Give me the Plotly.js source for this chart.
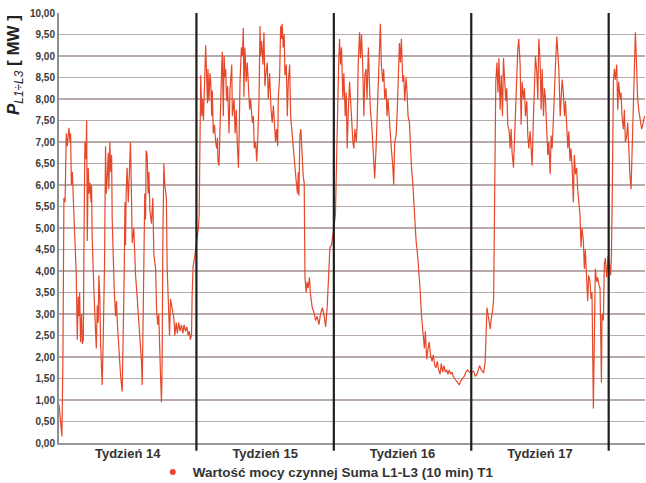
<!DOCTYPE html>
<html><head><meta charset="utf-8">
<script src="https://cdn.plot.ly/plotly-3.0.1.min.js"></script>
<style>html,body{margin:0;padding:0;background:#fff}#chart{width:646px;height:483px}</style>
</head><body><div id="chart"></div>
<script>
// time in days from start of week 14, power in MW
const w14Day=[0.00,0.07,0.15,0.20,0.25,0.31,0.34,0.37,0.42,0.47,0.51,0.56,0.59,0.63,0.68,0.76,0.81,0.88,0.93,0.98,1.02,1.05,1.10,1.15,1.19,1.24,1.27,1.32,1.37,1.41,1.44,1.49,1.53,1.58,1.63,1.66,1.69,1.73,1.78,1.83,1.90,1.95,2.00,2.03,2.08,2.12,2.15,2.20,2.25,2.32,2.37,2.41,2.46,2.51,2.54,2.59,2.63,2.68,2.71,2.75,2.81,2.88,2.93,2.97,3.02,3.08,3.14,3.22,3.27,3.32,3.36,3.39,3.42,3.47,3.53,3.56,3.61,3.64,3.69,3.73,3.81,3.90,3.98,4.03,4.07,4.15,4.20,4.24,4.27,4.32,4.37,4.41,4.44,4.49,4.54,4.58,4.63,4.71,4.78,4.83,4.92,4.97,5.03,5.08,5.12,5.17,5.22,5.25,5.29,5.34,5.39,5.42,5.47,5.51,5.56,5.59,5.63,5.68,5.76,5.85,5.90,5.97,6.03,6.10,6.17,6.24,6.31,6.37,6.44,6.51,6.58,6.64,6.69,6.75,6.78,6.83,6.92,7.00];
const w14MW=[0.90,0.55,0.15,2.0,5.7,5.6,6.6,7.2,6.9,7.25,7.33,7.0,7.2,6.0,6.3,5.3,4.5,3.9,2.4,3.4,2.95,3.5,2.35,3.0,2.3,2.4,4.5,7.0,6.6,7.5,4.7,6.4,5.8,6.05,5.6,6.0,4.8,3.9,3.5,2.95,2.2,3.2,2.8,3.9,3.4,2.3,1.7,1.35,2.35,4.2,6.9,5.8,6.2,6.75,5.9,7.0,6.3,6.7,5.2,4.2,3.6,2.95,3.3,2.8,2.35,1.9,1.55,1.2,2.35,3.9,5.6,4.6,5.8,6.4,5.6,5.9,6.6,7.0,5.8,4.65,5.0,3.9,3.4,3.1,2.8,2.35,1.9,1.35,2.35,4.8,5.8,5.2,6.8,6.7,5.8,6.3,5.4,5.1,5.7,4.4,4.05,3.1,2.75,3.0,2.2,1.6,0.95,1.7,4.65,6.5,6.0,5.8,5.7,4.05,3.4,3.0,2.5,3.35,3.1,2.9,2.5,2.8,2.55,2.8,2.6,2.75,2.55,2.75,2.6,2.7,2.5,2.6,2.4,2.5,3.4,4.1,4.35,4.65];
const w15Day=[7.05,7.10,7.14,7.17,7.22,7.27,7.31,7.36,7.41,7.44,7.47,7.53,7.56,7.59,7.64,7.69,7.73,7.78,7.81,7.86,7.92,7.98,8.03,8.07,8.10,8.15,8.20,8.24,8.29,8.32,8.37,8.41,8.46,8.49,8.54,8.59,8.66,8.71,8.76,8.80,8.83,8.92,8.97,9.03,9.08,9.14,9.17,9.22,9.29,9.34,9.39,9.42,9.47,9.54,9.59,9.64,9.71,9.76,9.85,9.90,9.95,10.02,10.07,10.12,10.19,10.24,10.27,10.32,10.39,10.44,10.49,10.53,10.61,10.66,10.73,10.80,10.86,10.92,10.97,11.03,11.08,11.14,11.17,11.24,11.29,11.34,11.37,11.42,11.47,11.51,11.58,11.63,11.68,11.75,11.80,11.85,11.92,11.97,12.02,12.08,12.15,12.19,12.22,12.27,12.32,12.36,12.39,12.44,12.49,12.53,12.59,12.64,12.69,12.76,12.81,12.90,12.98,13.07,13.15,13.24,13.32,13.41,13.49,13.58,13.66,13.75,13.80,13.88,13.97];
const w15MW=[4.7,5.0,5.3,6.85,8.55,7.6,8.0,7.5,8.3,8.8,9.25,8.4,7.9,8.7,7.95,8.6,8.4,7.6,8.2,7.2,7.4,7.0,6.85,7.1,6.55,6.45,7.6,8.4,8.8,9.1,7.6,9.0,8.5,8.7,7.95,8.3,7.2,8.2,8.6,8.8,7.6,8.0,7.2,7.75,7.0,6.4,7.0,8.4,9.2,9.0,9.65,8.05,9.2,8.4,8.85,8.25,7.75,8.0,7.45,7.6,6.85,7.0,6.55,7.0,8.0,9.7,9.0,9.35,8.8,9.55,8.3,8.55,8.85,8.0,8.6,7.75,7.45,7.85,7.3,7.0,7.3,6.9,8.0,8.55,9.7,9.4,9.75,9.2,9.5,8.55,8.8,7.6,8.4,8.8,7.6,7.3,7.0,6.55,6.25,6.1,5.8,6.3,5.75,7.15,7.3,6.8,6.7,6.2,6.05,3.85,3.5,3.75,3.6,3.85,3.45,3.15,3.05,2.85,2.95,2.75,3.0,3.15,3.0,2.7,3.15,3.95,4.55,4.6,4.85];
const w16Day=[14.00,14.08,14.15,14.20,14.25,14.29,14.34,14.39,14.46,14.51,14.58,14.63,14.68,14.73,14.80,14.85,14.90,14.97,15.02,15.07,15.14,15.19,15.24,15.31,15.36,15.41,15.47,15.53,15.58,15.64,15.69,15.76,15.81,15.86,15.93,15.98,16.03,16.08,16.15,16.20,16.25,16.32,16.37,16.42,16.49,16.54,16.59,16.66,16.71,16.76,16.83,16.88,16.93,17.00,17.05,17.10,17.17,17.22,17.27,17.34,17.39,17.44,17.51,17.56,17.61,17.68,17.73,17.78,17.85,17.90,17.95,18.02,18.07,18.12,18.19,18.27,18.32,18.39,18.46,18.53,18.61,18.66,18.73,18.80,18.86,18.92,19.00,19.07,19.14,19.20,19.27,19.34,19.41,19.47,19.54,19.61,19.68,19.75,19.81,19.88,19.95,20.02,20.08,20.15,20.22,20.31,20.39,20.47,20.56,20.64,20.73,20.81,20.90,20.98];
const w16MW=[5.0,5.3,6.85,8.4,8.9,9.4,8.8,9.2,8.0,8.6,7.6,8.15,6.85,7.6,8.4,8.0,7.4,7.0,6.85,7.3,7.0,7.4,8.8,9.55,8.95,9.5,8.8,7.6,8.55,8.7,8.0,9.2,8.4,7.75,7.4,7.0,6.7,6.15,6.85,7.6,8.0,9.2,9.75,8.8,8.4,8.7,8.0,8.25,7.6,8.0,7.4,7.0,6.85,6.45,6.0,7.0,7.15,7.6,8.4,9.3,8.85,9.4,8.4,8.55,7.95,8.5,8.15,7.6,7.45,6.85,6.45,6.05,5.6,5.15,4.7,4.35,3.9,3.6,3.0,2.5,2.2,2.6,1.95,2.2,2.35,2.05,1.9,2.05,1.8,1.75,1.9,1.7,1.6,1.85,1.65,1.8,1.65,1.7,1.6,1.7,1.6,1.65,1.55,1.5,1.45,1.4,1.35,1.45,1.5,1.55,1.65,1.7,1.65,1.65];
const w17Day=[21.12,21.20,21.29,21.42,21.51,21.63,21.71,21.76,21.80,21.85,21.90,21.97,22.02,22.08,22.14,22.17,22.20,22.25,22.31,22.36,22.41,22.47,22.53,22.59,22.64,22.69,22.76,22.81,22.86,22.93,22.98,23.03,23.08,23.15,23.20,23.25,23.32,23.37,23.42,23.49,23.54,23.59,23.66,23.71,23.76,23.83,23.88,23.93,24.00,24.05,24.10,24.17,24.22,24.27,24.34,24.39,24.44,24.51,24.56,24.61,24.68,24.73,24.78,24.85,24.90,24.95,25.02,25.07,25.12,25.19,25.24,25.29,25.36,25.41,25.46,25.53,25.58,25.63,25.69,25.75,25.80,25.86,25.92,25.97,26.03,26.08,26.14,26.20,26.25,26.31,26.37,26.42,26.47,26.54,26.59,26.64,26.71,26.76,26.81,26.88,26.93,26.98,27.05,27.10,27.15,27.22,27.27,27.32,27.39,27.44,27.49,27.56,27.63,27.66,27.73,27.78,27.83,27.90,27.97];
const w17MW=[1.67,1.55,1.6,1.8,1.7,1.63,1.9,2.75,3.15,3.0,2.85,2.65,2.9,3.05,3.35,5.15,7.6,8.4,8.85,8.15,8.95,7.75,8.55,7.6,8.95,8.4,7.95,8.25,7.4,7.25,6.85,7.3,6.75,6.4,7.0,7.75,8.8,9.15,9.4,8.8,7.4,8.4,8.0,8.25,7.6,7.95,7.15,6.85,7.25,6.7,6.45,7.6,8.4,9.0,8.6,8.0,9.4,8.85,7.75,8.7,7.6,8.25,8.0,7.25,6.7,7.0,6.25,7.15,6.85,7.6,8.55,8.8,9.45,9.0,8.7,7.6,8.25,8.45,8.15,7.6,7.95,7.4,6.85,7.25,6.55,6.85,6.4,5.6,6.7,6.25,6.4,5.9,5.55,5.3,4.55,5.0,4.7,4.05,4.5,3.6,3.3,3.9,3.75,3.35,3.5,0.8,3.0,4.05,3.75,3.85,3.7,3.6,1.4,3.0,2.85,4.15,4.3,3.85,4.35];
const w18Day=[28.03,28.10,28.14,28.19,28.24,28.29,28.34,28.41,28.46,28.51,28.58,28.63,28.68,28.75,28.80,28.85,28.92,28.97,29.02,29.08,29.14,29.19,29.25,29.31,29.36,29.42,29.47,29.53,29.59,29.68,29.76,29.83];
const w18MW=[4.2,3.9,4.35,6.05,8.4,8.7,8.45,8.8,7.75,8.4,8.0,8.15,7.6,7.3,7.75,7.0,7.15,7.45,6.85,6.25,5.9,6.85,8.0,9.0,9.55,8.8,8.05,7.75,7.6,7.3,7.45,7.6];

const weekStarts=[7,14,21,28];
const weekCenters=[3.5,10.5,17.5,24.5];
const weekLabels=['Tydzień 14','Tydzień 15','Tydzień 16','Tydzień 17'];
const yTicks=[0,0.5,1,1.5,2,2.5,3,3.5,4,4.5,5,5.5,6,6.5,7,7.5,8,8.5,9,9.5,10];
const seriesName='Wartość mocy czynnej Suma L1-L3 (10 min) T1';

const xs=[].concat(w14Day,w15Day,w16Day,w17Day,w18Day);
const ys=[].concat(w14MW,w15MW,w16MW,w17MW,w18MW);
const red='#e5482a';

const traces=[
 {x:xs,y:ys,type:'scatter',mode:'lines',line:{color:red,width:1.2},showlegend:false,hoverinfo:'skip'},
 {x:[null],y:[null],type:'scatter',mode:'markers',marker:{color:red,size:6},name:seriesName,showlegend:true}
];

const shapes=weekStarts.map(d=>({type:'line',xref:'x',yref:'paper',x0:d,x1:d,y0:-0.018,y1:1,line:{color:'#1e1e1e',width:2.2}}));

const layout={
 width:646,height:483,
 margin:{l:59,r:1,t:13,b:40,autoexpand:false},
 paper_bgcolor:'#ffffff',plot_bgcolor:'#ffffff',
 separators:', ',
 font:{family:'Liberation Sans, Arial, sans-serif',color:'#333'},
 xaxis:{range:[0,29.85],automargin:false,tickmode:'array',tickvals:weekCenters,ticktext:weekLabels,ticks:'',ticklabelstandoff:-2,showgrid:false,zeroline:false,
   showline:true,linecolor:'#9a9a9a',linewidth:1.5,tickfont:{size:13,weight:'bold',color:'#333'}},
 yaxis:{range:[0,10],automargin:false,tickmode:'array',tickvals:yTicks,tickformat:'.2f',showgrid:true,gridcolor:'#b8aaa8',gridwidth:1.5,
   zeroline:false,showline:true,linecolor:'#8f8f8f',linewidth:2,ticks:'',tickfont:{size:10,weight:'bold',color:'#3a3a3a'}},
 shapes:shapes,
 showlegend:true,
 legend:{orientation:'h',x:0.16,xanchor:'left',y:-0.104,yanchor:'bottom',font:{size:13.5,weight:'bold',color:'#333'},bgcolor:'rgba(0,0,0,0)'},
 annotations:[{xref:'paper',yref:'paper',x:0,y:1,xanchor:'center',yanchor:'top',xshift:-44,textangle:-90,showarrow:false,
   text:'<b><i>P</i></b><sub><i>L1÷L3</i></sub><b> [ MW ]</b>',font:{size:17,color:'#222',family:'Liberation Sans, Arial, sans-serif'}}]
};
Plotly.newPlot('chart',traces,layout,{staticPlot:true,displayModeBar:false});
</script></body></html>
